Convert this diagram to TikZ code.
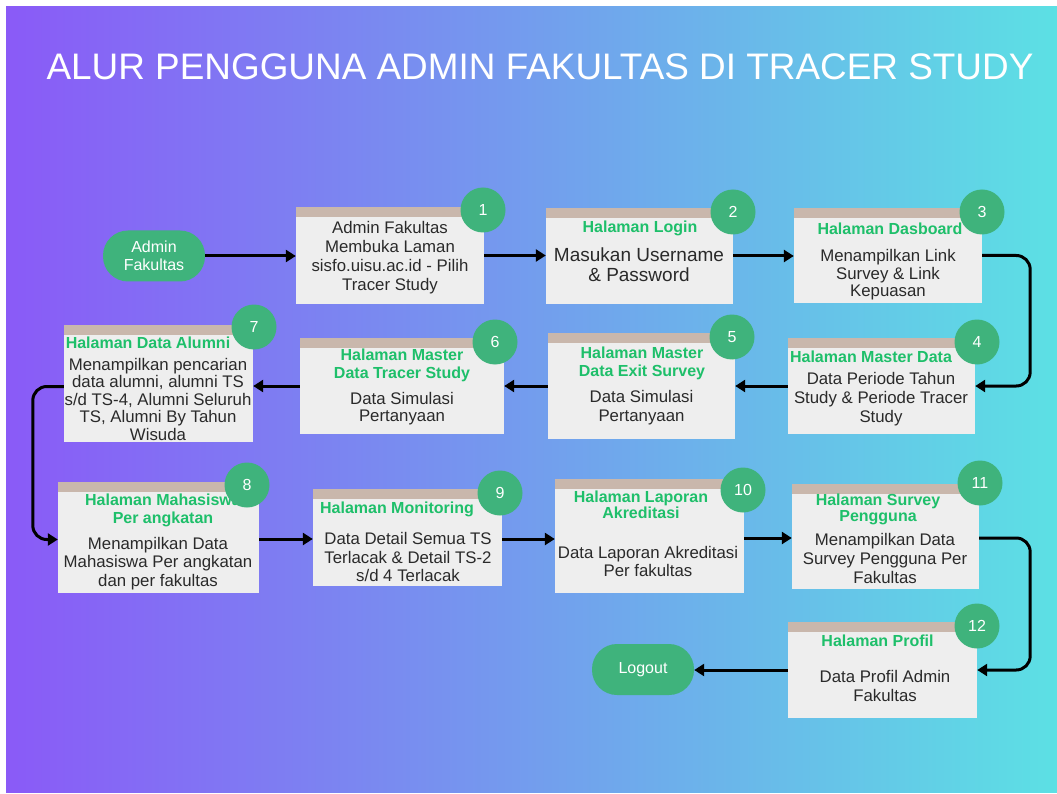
\documentclass[tikz,border=0pt]{standalone}
\usepackage{fontspec}
\setmainfont{Liberation Sans}
\usetikzlibrary{arrows.meta,calc}
\definecolor{bgl}{HTML}{8A5AF7}
\definecolor{bgr}{HTML}{5CE0E4}
\definecolor{boxgray}{HTML}{EEEEEE}
\definecolor{barc}{HTML}{C9B7AC}
\definecolor{numg}{HTML}{3FB37C}
\definecolor{headg}{HTML}{1EBF6A}
\definecolor{bodyc}{HTML}{2A2A2A}
\tikzset{
  stepbox/.style={rectangle, fill=boxgray, draw=none, inner sep=0pt},
  numc/.style={circle, fill=numg, draw=none, minimum size=45pt, inner sep=0pt, text=white, font=\fontsize{16}{17}\selectfont},
  pill/.style={rectangle, rounded corners=25pt, fill=numg, draw=none, minimum width=102pt, minimum height=51pt, inner sep=0pt, text=white, align=center, font=\fontsize{16}{17.5}\selectfont},
  head/.style={text=headg, align=center, inner sep=0pt, font=\bfseries\fontsize{16}{17.5}\selectfont},
  body/.style={text=bodyc, align=center, inner sep=0pt, font=\fontsize{16.8}{19}\selectfont},
  arr/.style={line width=3pt, black, -{Triangle[length=10pt,width=12pt]}},
  elbow/.style={arr, rounded corners=14pt},
}
\begin{document}
\begin{tikzpicture}[x=1pt,y=-1pt]
\useasboundingbox (0,0) rectangle (1057,794);
\fill[white] (0,0) rectangle (1057,794);
\shade[left color=bgl, right color=bgr] (6,7) rectangle (1057,792);

\node[text=white, inner sep=0pt, font=\fontsize{36.9}{40}\selectfont] (title) at (540,67) {ALUR PENGGUNA ADMIN FAKULTAS DI TRACER STUDY};

% boxes
\node[stepbox, minimum width=188pt, minimum height=97pt] (b1) at (390,255.5) {};
\node[stepbox, minimum width=187pt, minimum height=96pt] (b2) at (639.5,256) {};
\node[stepbox, minimum width=188pt, minimum height=95pt] (b3) at (888,255.5) {};
\node[stepbox, minimum width=187pt, minimum height=96pt] (b4) at (881.5,386) {};
\node[stepbox, minimum width=187pt, minimum height=106pt] (b5) at (641.5,386) {};
\node[stepbox, minimum width=204pt, minimum height=96pt] (b6) at (402,386) {};
\node[stepbox, minimum width=189pt, minimum height=117pt] (b7) at (158.5,383.5) {};
\node[stepbox, minimum width=201pt, minimum height=111pt] (b8) at (158.5,537.5) {};
\node[stepbox, minimum width=189pt, minimum height=97pt] (b9) at (407.5,537.5) {};
\node[stepbox, minimum width=189pt, minimum height=114pt] (b10) at (649.5,536) {};
\node[stepbox, minimum width=187pt, minimum height=105pt] (b11) at (885.5,536.5) {};
\node[stepbox, minimum width=189pt, minimum height=96pt] (b12) at (882.5,670) {};
\foreach \b in {b1,b2,b3,b4,b5,b6,b7,b8,b9,b10,b11,b12}
  \fill[barc] (\b.north west) rectangle ([yshift=-10pt]\b.north east);

% pills
\node[pill] (start) at (154,256) {Admin\\Fakultas};
\node[pill] (logout) at (643,669.5) {Logout};

% connectors
\draw[arr] (start.east) -- (start.east -| b1.west);
\draw[arr] (b1.east) -- (b1.east -| b2.west);
\draw[arr] (b2.east) -- (b2.east -| b3.west);
\draw[elbow] (b3.east) -- ++(48,0) |- (b4.east);
\draw[arr] (b4.west) -- (b4.west -| b5.east);
\draw[arr] (b5.west) -- (b5.west -| b6.east);
\draw[arr] (b6.west) -- (b6.west -| b7.east);
\draw[elbow] ([yshift=-3pt]b7.west) -- ++(-31,0) |- ([yshift=-2pt]b8.west);
\draw[arr] ([yshift=-1.5pt]b8.east) -- ([yshift=-1.5pt]b8.east -| b9.west);
\draw[arr] ([yshift=-1.5pt]b9.east) -- ([yshift=-1.5pt]b9.east -| b10.west);
\draw[arr] ([yshift=-2pt]b10.east) -- ([yshift=-2pt]b10.east -| b11.west);
\draw[elbow] ([yshift=-1.5pt]b11.east) -- ++(51,0) |- (b12.east);
\draw[arr] (b12.west) -- (b12.west -| logout.east);

% texts
\node[body] (t1) at (390,257.5) {Admin Fakultas\\Membuka Laman\\sisfo.uisu.ac.id - Pilih\\Tracer Study};
\node[head] (h2) at (640,228) {Halaman Login};
\node[body, font=\fontsize{19}{19.5}\selectfont] (t2) at (639,264.5) {Masukan Username\\\& Password};
\node[head] (h3) at (890,229) {Halaman Dasboard};
\node[body, font=\fontsize{16.8}{17.5}\selectfont] (t3) at (888,275) {Menampilkan Link\\Survey \& Link\\Kepuasan};
\node[head] (h4) at (871,357) {Halaman Master Data};
\node[body] (t4) at (881,399) {Data Periode Tahun\\Study \& Periode Tracer\\Study};
\node[head] (h5) at (642,363.5) {Halaman Master\\Data Exit Survey};
\node[body] (t5) at (641.5,407.5) {Data Simulasi\\Pertanyaan};
\node[head] (h6) at (402,365.5) {Halaman Master\\Data Tracer Study};
\node[body, font=\fontsize{16.8}{17.5}\selectfont] (t6) at (402,408.5) {Data Simulasi\\Pertanyaan};
\node[head] (h7) at (148,343) {Halaman Data Alumni};
\node[body, font=\fontsize{16.8}{17.5}\selectfont] (t7) at (158,399) {Menampilkan pencarian\\data alumni, alumni TS\\s/d TS-4, Alumni Seluruh\\TS, Alumni By Tahun\\Wisuda};
\node[head] (h8) at (163,510.5) {Halaman Mahasiswa\\Per angkatan};
\node[body, font=\fontsize{16.8}{18.5}\selectfont] (t8) at (158,563.5) {Menampilkan Data\\Mahasiswa Per angkatan\\dan per fakultas};
\node[head] (h9) at (397,509) {Halaman Monitoring};
\node[body, font=\fontsize{16.8}{18.5}\selectfont] (t9) at (408,557) {Data Detail Semua TS\\Terlacak \& Detail TS-2\\s/d 4 Terlacak};
\node[head, font=\bfseries\fontsize{16}{16.5}\selectfont] (h10) at (641,505) {Halaman Laporan\\Akreditasi};
\node[body, font=\fontsize{16.8}{17.5}\selectfont] (t10) at (648,561.5) {Data Laporan Akreditasi\\Per fakultas};
\node[head, font=\bfseries\fontsize{16}{16}\selectfont] (h11) at (878,509.5) {Halaman Survey\\Pengguna};
\node[body] (t11) at (885,558) {Menampilkan Data\\Survey Pengguna Per\\Fakultas};
\node[head] (h12) at (877.5,641) {Halaman Profil};
\node[body] (t12) at (885,686) {Data Profil Admin\\Fakultas};

% number circles
\node[numc] (n1) at (483,210) {1};
\node[numc] (n2) at (733,212) {2};
\node[numc] (n3) at (982,212) {3};
\node[numc] (n4) at (977,342) {4};
\node[numc] (n5) at (732,337) {5};
\node[numc] (n6) at (495,342) {6};
\node[numc] (n7) at (254,327) {7};
\node[numc] (n8) at (247,485) {8};
\node[numc] (n9) at (500,493) {9};
\node[numc] (n10) at (743,490) {10};
\node[numc] (n11) at (980,483) {11};
\node[numc] (n12) at (977,626) {12};
\end{tikzpicture}
\end{document}
